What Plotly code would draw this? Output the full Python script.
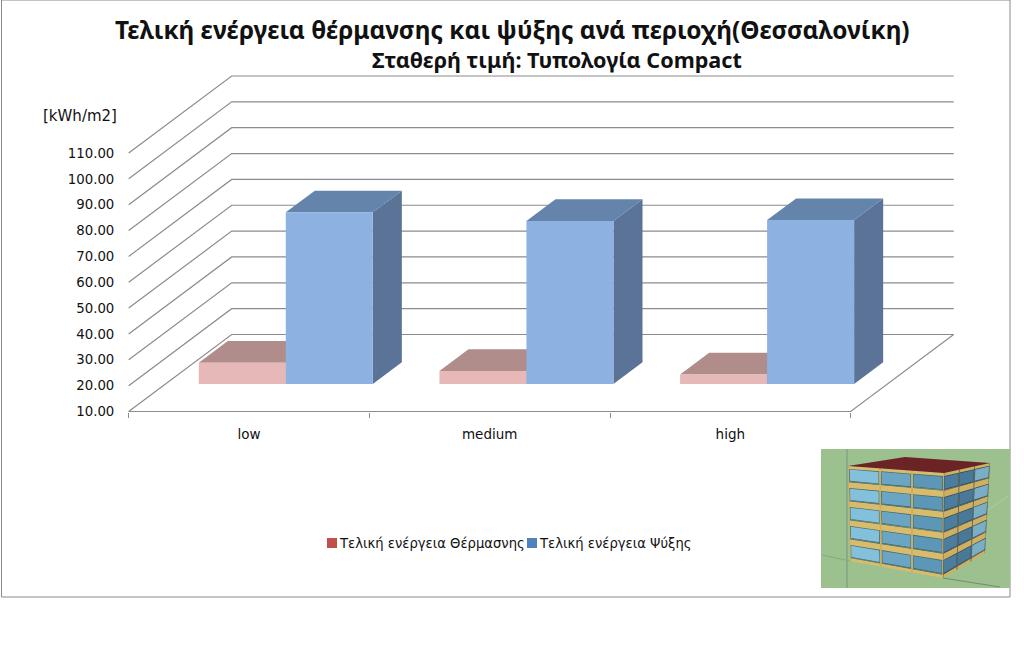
import plotly.graph_objects as go

# values
categories = ["low", "medium", "high"]
heating = [18.2, 15.0, 13.7]
cooling = [76.4, 73.05, 73.4]
y_ticks = [10, 20, 30, 40, 50, 60, 70, 80, 90, 100, 110]

W, H = 1024, 645

# axis scale: pixels per unit, and where the axes sit on the page
PX_X = 240.67
PX_Y = 2.585
BASE_Y = 411.5
FLOOR = 10
# oblique projection of the depth direction, in axis units
DEPTH_X = 103 / PX_X
DEPTH_Y = 77 / PX_Y
BAR_DEPTH = (0.357, 0.639)
BAR_WIDTH = 87 / PX_X

GRID = "#8c8c8c"


def px(x, y):
    # page pixels to paper coordinates, for the decoration
    return x / W, 1 - y / H


def project(x, y, d):
    return x + d * DEPTH_X, y + d * DEPTH_Y


def poly(corners, color):
    xs = [c[0] for c in corners] + [corners[0][0]]
    ys = [c[1] for c in corners] + [corners[0][1]]
    return go.Scatter(x=xs, y=ys, mode="lines", fill="toself", fillcolor=color,
                      line=dict(width=0, color=color), hoverinfo="skip", showlegend=False)


def line(xs, ys, color=GRID, width=1.2):
    return go.Scatter(x=xs, y=ys, mode="lines", line=dict(color=color, width=width),
                      hoverinfo="skip", showlegend=False)


def add_bar(fig, i, left, value, front, top, side):
    d0, d1 = BAR_DEPTH
    right = left + BAR_WIDTH
    corner = lambda x, y, d: project(i + x, y, d)
    fig.add_trace(poly([corner(right, FLOOR, d0), corner(right, FLOOR, d1),
                        corner(right, value, d1), corner(right, value, d0)], side))
    fig.add_trace(poly([corner(left, value, d0), corner(left, value, d1),
                        corner(right, value, d1), corner(right, value, d0)], top))
    fig.add_trace(poly([corner(left, FLOOR, d0), corner(right, FLOOR, d0),
                        corner(right, value, d0), corner(left, value, d0)], front))


fig = go.Figure()

# walls and floor
x0, x1 = -0.5, 2.5
for t in y_ticks:
    bx, by = project(x0, t, 1)
    ex, ey = project(x1, t, 1)
    fig.add_trace(line([x0, bx, ex], [t, by, ey]))
ex, ey = project(x1, FLOOR, 1)
fig.add_trace(line([ex, x1, x0], [ey, FLOOR, FLOOR]))

# bars, left to right so the cooling bar hides the back of the heating bar
for i in range(len(categories)):
    add_bar(fig, i, -BAR_WIDTH, heating[i], "#e6b8b7", "#b08c8a", "#9c7a78")
    add_bar(fig, i, 0, cooling[i], "#8db1e1", "#6484ac", "#5a7396")

# frame, titles, legend
shapes = []
ann = []


def rect(x0_, y0_, x1_, y1_, fill, border=None):
    a = px(x0_, y0_)
    b = px(x1_, y1_)
    shapes.append(dict(type="rect", xref="paper", yref="paper", x0=a[0], y0=a[1], x1=b[0], y1=b[1],
                       fillcolor=fill, line=dict(width=1 if border else 0, color=border or fill),
                       layer="below" if border else "above"))


def quad(pts, fill):
    path = "M " + " L ".join("%.4f,%.4f" % px(*p) for p in pts) + " Z"
    shapes.append(dict(type="path", xref="paper", yref="paper", path=path, fillcolor=fill,
                       line=dict(width=0)))


def seg(xa, ya, xb, yb, color):
    a = px(xa, ya)
    b = px(xb, yb)
    shapes.append(dict(type="line", xref="paper", yref="paper", x0=a[0], y0=a[1], x1=b[0], y1=b[1],
                       line=dict(color=color, width=1)))


def text(x, y, s, size, family, color="#111111", anchor="center", bold=False):
    a = px(x, y)
    ann.append(dict(xref="paper", yref="paper", x=a[0], y=a[1], text=s, showarrow=False,
                    xanchor=anchor, yanchor="middle",
                    font=dict(size=size, family=family, color=color, weight="bold" if bold else "normal")))


rect(1.5, 0, 1010, 597, "white", "#8a8a8a")

TITLE_FONT = "Noto Sans"
LABEL_FONT = "DejaVu Sans"
text(512, 30, "Τελική ενέργεια θέρμανσης και ψύξης ανά περιοχή(Θεσσαλονίκη)", 24.4, TITLE_FONT, bold=True)
text(557, 60, "Σταθερή τιμή: Τυπολογία Compact", 21.6, TITLE_FONT, bold=True)
text(80, 116, "[kWh/m2]", 15, LABEL_FONT)

rect(327, 538, 337, 548, "#c0504d")
text(337, 543, "Τελική ενέργεια Θέρμασνης", 13.2, LABEL_FONT, anchor="left")
rect(527, 538, 537, 548, "#4f81bd")
text(537, 543, "Τελική ενέργεια Ψύξης", 13.2, LABEL_FONT, anchor="left")


# building thumbnail, bottom right
def bilinear(c, u, v):
    # c: top-left, top-right, bottom-right, bottom-left
    tx = c[0][0] + (c[1][0] - c[0][0]) * u
    ty = c[0][1] + (c[1][1] - c[0][1]) * u
    bx = c[3][0] + (c[2][0] - c[3][0]) * u
    by = c[3][1] + (c[2][1] - c[3][1]) * u
    return tx + (bx - tx) * v, ty + (by - ty) * v


def panel(c, u0, u1, v0, v1, fill):
    quad([bilinear(c, u0, v0), bilinear(c, u1, v0), bilinear(c, u1, v1), bilinear(c, u0, v1)], fill)


def facade(c, glass, band, edge, column):
    panel(c, 0, 1, 0, 1, band)
    for f in range(5):
        v = f / 5
        panel(c, 0, 1, v + 0.163, v + 0.17, edge)
        for k in range(3):
            u = k / 3
            panel(c, u + 0.008, u + 1 / 3 - 0.008, v + 0.03, v + 0.163, edge)
            panel(c, u + 0.016, u + 1 / 3 - 0.016, v + 0.037, v + 0.155, glass[k])
    for k in range(4):
        u = k / 3
        panel(c, max(u - 0.008, 0), min(u + 0.008, 1), 0, 1, column)


rect(821, 449, 1010, 588, "#9dc08f")
seg(847, 449, 847, 588, "#6f9a78")
seg(822, 555, 850, 561, "#85ab85")
seg(943, 578, 1000, 587, "#6f8f6f")
seg(985, 512, 1008, 496, "#b0cda2")
facade([(848, 466), (944, 473), (943, 578), (850, 561)],
       ["#82c0dc", "#6ba5c4", "#5d97b8"], "#d9bb6c", "#3f6a70", "#c8ad62")
facade([(944, 473), (990, 463), (985, 553), (943, 578)],
       ["#4c7c9e", "#4a7898", "#7aaec6"], "#cfb063", "#2f4a52", "#3a5560")
quad([(848, 466), (905, 457), (990, 463), (944, 473)], "#6b2326")

fig.update_layout(
    width=W, height=H, margin=dict(l=0, r=0, t=0, b=0),
    paper_bgcolor="white", plot_bgcolor="rgba(0,0,0,0)",
    showlegend=False, shapes=shapes, annotations=ann,
    xaxis=dict(
        domain=[0, 1], range=[-249 / PX_X, (W - 249) / PX_X],
        anchor="free", position=(H - BASE_Y) / H,
        tickvals=list(range(len(categories))), ticktext=categories,
        ticks="outside", ticklen=10, tickcolor="rgba(0,0,0,0)",
        tickfont=dict(size=13.5, family=LABEL_FONT, color="#111111"),
        minor=dict(tickvals=[-0.5, 0.5, 1.5, 2.5], ticks="outside", ticklen=5, tickcolor=GRID),
        showgrid=False, zeroline=False, showline=False,
    ),
    yaxis=dict(
        domain=[0, 1], range=[FLOOR + (BASE_Y - H) / PX_Y, FLOOR + BASE_Y / PX_Y],
        anchor="free", position=129 / W,
        tickvals=y_ticks, tickformat=".2f",
        ticks="outside", ticklen=12, tickcolor="rgba(0,0,0,0)",
        tickfont=dict(size=13.3, family=LABEL_FONT, color="#111111"),
        showgrid=False, zeroline=False, showline=False,
    ),
)

fig.write_html("out.html", config={"displayModeBar": False},
               post_script="document.body.style.margin='0';document.body.style.overflow='hidden';")
